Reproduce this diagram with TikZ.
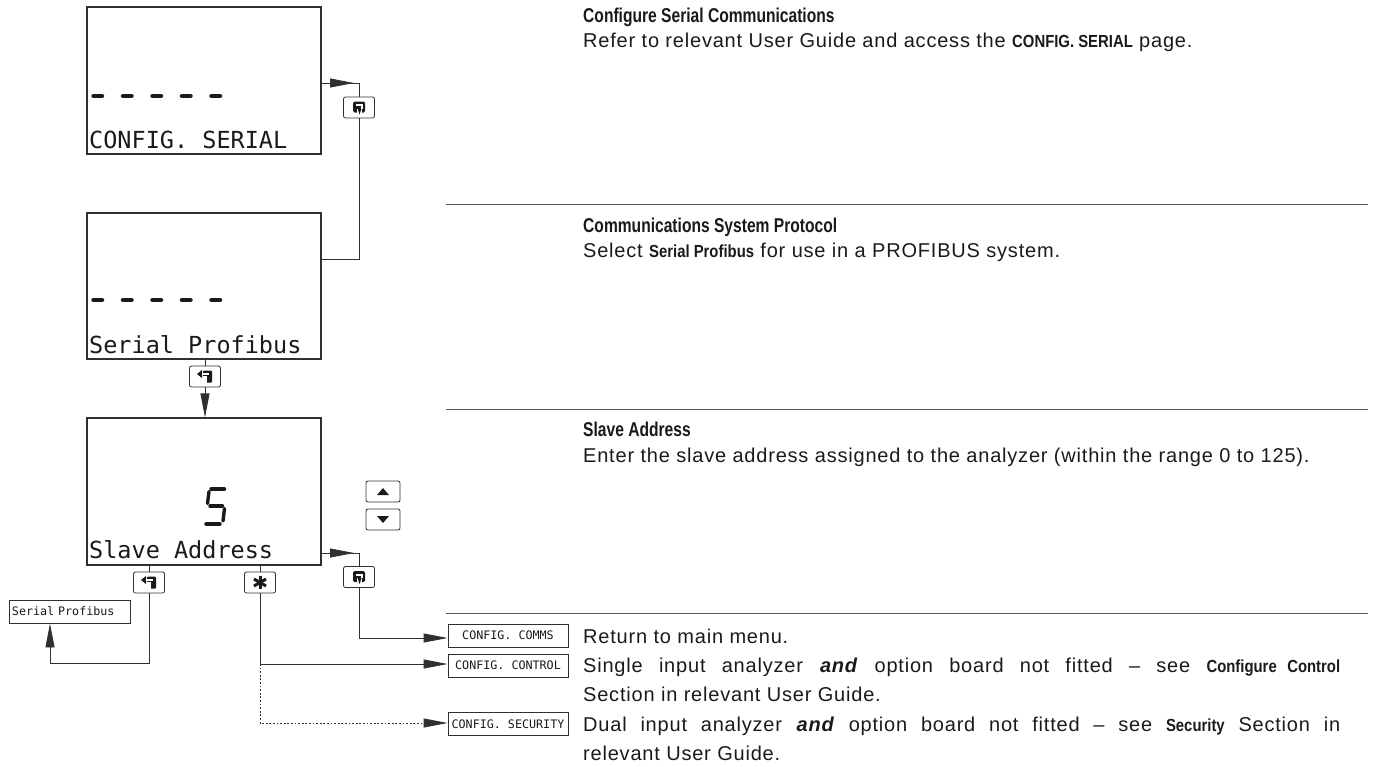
\documentclass[tikz,border=0pt]{standalone}
\usepackage{fontspec}
\setmainfont{Liberation Sans}[LetterSpace=4]
\newfontfamily\monofont{DejaVu Sans Mono}
\newfontfamily\bnarrow{Liberation Sans}[FakeStretch=0.85]
\newfontfamily\tnarrow{Liberation Sans}[FakeStretch=0.78]
\usetikzlibrary{arrows.meta}
\definecolor{ln}{HTML}{303030}
\definecolor{txt}{HTML}{1A1A1A}
\newcommand\kw[1]{{\bnarrow\bfseries\fontsize{17.5}{18}\selectfont #1}}
\newcommand\ttl[1]{{\tnarrow\bfseries\fontsize{20}{20}\selectfont #1}}
\tikzset{
  display/.style={draw=ln, line width=1.2pt, minimum width=234pt, inner sep=0pt},
  dtext/.style={anchor=base west, inner sep=0pt, text=txt, font=\monofont\fontsize{23.5}{24}\selectfont},
  keybox/.style={draw=ln, line width=0.8pt, rounded corners=2pt, minimum width=31pt, minimum height=21pt, inner sep=0pt},
  sbox/.style={draw=ln, line width=0.9pt, minimum width=120pt, minimum height=23pt, inner sep=0pt, text=txt, font=\monofont\fontsize{11.7}{12}\selectfont},
  conn/.style={draw=ln, line width=0.9pt},
  arr/.style={-{Triangle[length=24pt,width=9pt]}},
  dashbar/.style={line width=4.5pt, line cap=round, draw=txt},
  seg/.style={line width=3.4pt, line cap=round, draw=txt},
  rtext/.style={anchor=base west, inner sep=0pt, text=txt, font=\fontsize{20}{29}\selectfont},
  sepline/.style={draw=ln!80, line width=0.8pt}
}
\newcommand\scrollicon[1]{%
  \fill[txt, rounded corners=1.5pt] ([shift={(-6,-6)}]#1.center) rectangle ([shift={(6,5)}]#1.center);
  \fill[white] ([shift={(-2,1)}]#1.center) -- ([shift={(3,1)}]#1.center) -- ([shift={(3,5)}]#1.center) -- ([shift={(-2,5)}]#1.center) -- cycle;
  \fill[txt] ([shift={(-1.5,1)}]#1.center) -- ([shift={(2.5,1)}]#1.center) -- ([shift={(0.5,7)}]#1.center) -- cycle;
  \fill[white] ([shift={(-3.5,-3.5)}]#1.center) rectangle ([shift={(3.5,-1.5)}]#1.center);
  \fill[white] ([shift={(1.5,-3.5)}]#1.center) rectangle ([shift={(3.5,1)}]#1.center);
}
\newcommand\entericon[1]{%
  \fill[txt, rounded corners=1pt] ([shift={(-2,-6)}]#1.center) rectangle ([shift={(7,6)}]#1.center);
  \fill[txt] ([shift={(-8,-2.5)}]#1.center) -- ([shift={(-3,-6.5)}]#1.center) -- ([shift={(-3,1.5)}]#1.center) -- cycle;
  \fill[white] ([shift={(-2,-1)}]#1.center) rectangle ([shift={(2,6)}]#1.center);
  \fill[white] ([shift={(-3,-3.5)}]#1.center) rectangle ([shift={(3.5,-1.5)}]#1.center);
}
\newcommand\staricon[1]{%
  \draw[txt, line width=3pt] ([shift={(0,-6.5)}]#1.center) -- ([shift={(0,6.5)}]#1.center);
  \draw[txt, line width=3pt] ([shift={(-6,-3.5)}]#1.center) -- ([shift={(6,3.5)}]#1.center);
  \draw[txt, line width=3pt] ([shift={(-6,3.5)}]#1.center) -- ([shift={(6,-3.5)}]#1.center);
}
\begin{document}
\begin{tikzpicture}[x=1pt,y=-1pt]
\useasboundingbox (0,0) rectangle (1390,766);

% displays
\node[display, minimum height=147pt] (b1) at (204,80.5) {};
\node[display, minimum height=146pt] (b2) at (204,286) {};
\node[display, minimum height=147pt] (b3) at (204,491.5) {};

\node[dtext] (t1) at (89,148) {CONFIG. SERIAL};
\node[dtext] (t2) at (89,353) {Serial Profibus};
\node[dtext] (t3) at (89,558) {Slave Address};

\foreach \i in {0,...,4} {
  \draw[dashbar] (93.5+29.5*\i,96) -- ++(8.5,0);
  \draw[dashbar] (93.5+29.5*\i,300) -- ++(8.5,0);
}
% seven segment 5
\draw[seg] (211,489) -- (224.5,489);
\draw[seg] (209,491.5) -- (207.5,503.5);
\draw[seg] (210,506) -- (222.5,506);
\draw[seg] (224.5,508.5) -- (223,521);
\draw[seg] (206,524) -- (220,524);

% keys
\node[keybox] (k1) at (359,107.5) {};
\node[keybox] (k2) at (205,376.5) {};
\node[keybox] (k3) at (359,577) {};
\node[keybox] (k4) at (149,582.5) {};
\node[keybox] (k5) at (260,582.5) {};
\node[keybox, minimum width=34pt] (ku) at (383,491.5) {};
\node[keybox, minimum width=34pt] (kd) at (383,519.5) {};
\scrollicon{k1}
\scrollicon{k3}
\entericon{k2}
\entericon{k4}
\staricon{k5}
\fill[txt] ([shift={(-6,3.5)}]ku.center) -- ([shift={(6,3.5)}]ku.center) -- ([shift={(0,-3.5)}]ku.center) -- cycle;
\fill[txt] ([shift={(-6,-3.5)}]kd.center) -- ([shift={(6,-3.5)}]kd.center) -- ([shift={(0,3.5)}]kd.center) -- cycle;

% small target boxes
\node[sbox, minimum width=121pt, text width=121pt, align=left] (sp) at (69.5,611.5) {\hspace*{3pt}Serial Profibus};
\node[sbox] (cc) at (508,635.5) {CONFIG. COMMS};
\node[sbox] (ccon) at (508,665.5) {CONFIG. CONTROL};
\node[sbox] (csec) at (508,724) {CONFIG. SECURITY};

% connectors
\coordinate (c1) at (359,83);
\draw[conn] (b1.east |- c1) -- (c1) -- (k1.north);
\draw[conn, arr] (b1.east |- c1) -- ([xshift=-5pt]c1);
\coordinate (c2) at (359,259);
\draw[conn] (k1.south) -- (c2) -- (b2.east |- c2);

\draw[conn] (b2.south -| k2) -- (k2.north);
\draw[conn, arr] (k2.south) -- (b3.north -| k2);

\coordinate (c3) at (359,553);
\draw[conn] (b3.east |- c3) -- (c3) -- (k3.north);
\draw[conn, arr] (b3.east |- c3) -- ([xshift=-5pt]c3);
\coordinate (c4) at (359,638);
\draw[conn, arr] (k3.south) -- (c4) -- (cc.west |- c4);

\draw[conn] (b3.south -| k4) -- (k4.north);
\coordinate (c5) at (149,663);
\coordinate (c6) at (50,663);
\draw[conn, arr] (k4.south) -- (c5) -- (c6) -- (sp.south -| c6);

\draw[conn] (b3.south -| k5) -- (k5.north);
\coordinate (c7) at (260,664);
\draw[conn, arr] (k5.south) -- (c7) -- (ccon.west |- c7);
\coordinate (c8) at (260,723);
\draw[conn, dash pattern=on 1.8pt off 1.8pt, arr] (c7) -- (c8) -- (csec.west |- c8);

% separators
\draw[sepline] (446,204) -- (1368,204);
\draw[sepline] (446,409) -- (1368,409);
\draw[sepline] (446,613) -- (1368,613);

% right-hand texts
\node[rtext] (h1) at (583,22) {\ttl{Configure Serial Communications}};
\node[rtext] (d1) at (583,47) {Refer to relevant User Guide and access the \kw{CONFIG. SERIAL} page.};
\node[rtext] (h2) at (583,232) {\ttl{Communications System Protocol}};
\node[rtext] (d2) at (583,257) {Select \kw{Serial Profibus} for use in a PROFIBUS system.};
\node[rtext] (h3) at (583,436) {\ttl{Slave Address}};
\node[rtext] (d3) at (583,462) {Enter the slave address assigned to the analyzer (within the range 0 to 125).};

\node[rtext] (e1) at (583,643) {Return to main menu.};
\node[rtext] (e2) at (583,672) {\makebox[757pt][s]{Single input analyzer \textbf{\textit{and}} option board not fitted -- see \kw{Configure Control}}};
\node[rtext] (e3) at (583,701) {Section in relevant User Guide.};
\node[rtext] (e4) at (583,731) {\makebox[757pt][s]{Dual input analyzer \textbf{\textit{and}} option board not fitted -- see \kw{Security} Section in}};
\node[rtext] (e5) at (583,760) {relevant User Guide.};
\end{tikzpicture}
\end{document}
